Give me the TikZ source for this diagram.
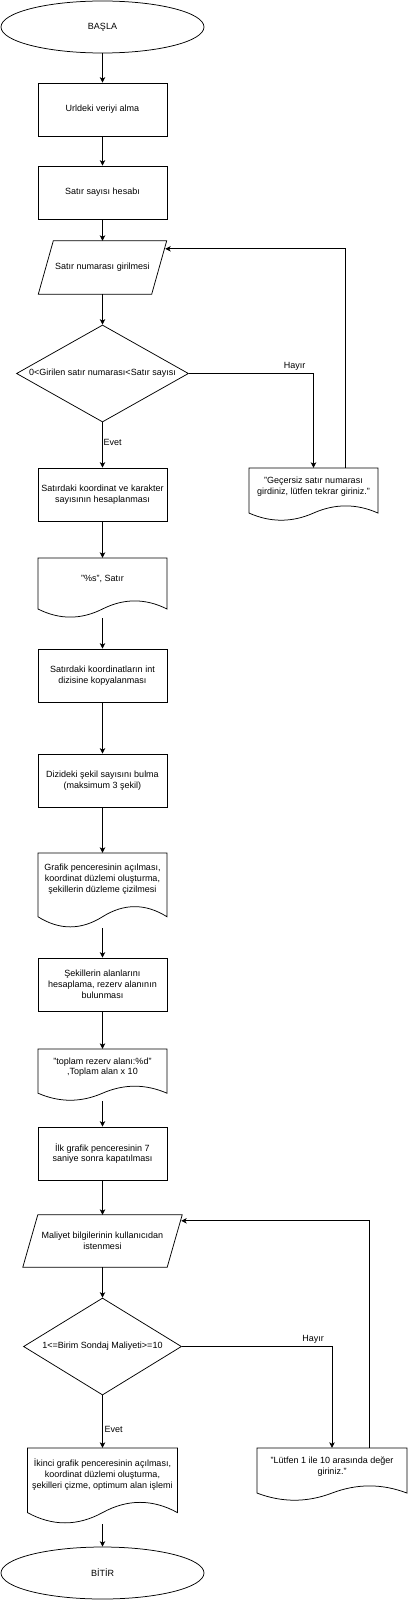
\documentclass[tikz,border=0pt]{standalone}
\usepackage{fontspec}
\setmainfont{Liberation Sans}
\usetikzlibrary{arrows.meta,shapes.geometric,calc}
\tikzset{
  ln/.style={draw=black, line width=0.75pt},
  procbox/.style={ln, rectangle, minimum width=129pt, minimum height=53pt, align=center, inner sep=0pt},
  termbox/.style={ln, ellipse, minimum width=203pt, minimum height=52pt, inner sep=0pt},
  decbox/.style={ln, diamond, inner sep=0pt},
  framebox/.style={rectangle, inner sep=0pt, align=center},
  txt/.style={align=center, inner sep=0pt},
  lab/.style={inner sep=0pt},
  arr/.style={line width=0.75pt, -{Stealth[length=5.5pt,width=5.5pt,inset=1.5pt]}}
}
% document shape: name, cx, top, w, h, text
\newcommand{\docshape}[6]{%
  \node[framebox, minimum width=#4pt, minimum height=#5pt] (#1) at (#2,{#3+#5/2}) {};
  \pgfmathsetmacro\docL{#2-#4/2}%
  \pgfmathsetmacro\docR{#2+#4/2}%
  \pgfmathsetmacro\docE{#3+0.85*#5}%
  \pgfmathsetmacro\docU{#3+0.67*#5}%
  \pgfmathsetmacro\docD{#3+1.03*#5}%
  \pgfmathsetmacro\docA{#2+#4/2-#4/6}%
  \pgfmathsetmacro\docB{#2+#4/6}%
  \pgfmathsetmacro\docC{#2-#4/6}%
  \pgfmathsetmacro\docF{#2-#4/2+#4/6}%
  \draw[ln] (\docL,#3) -- (\docR,#3) -- (\docR,\docE)
     .. controls (\docA,\docU) and (\docB,\docU) .. (#2,\docE)
     .. controls (\docC,\docD) and (\docF,\docD) .. (\docL,\docE) -- cycle;
  \node[txt] (#1t) at (#2,{#3+0.35*#5}) {#6};
}
% input/output parallelogram: name, cx, cy, w, h, text
\newcommand{\ioshape}[6]{%
  \node[framebox, minimum width=#4pt, minimum height=#5pt] (#1) at (#2,#3) {#6};
  \draw[ln] (#1.south west) -- ($(#1.north west)+(15,0)$) -- (#1.north east)
     -- ($(#1.south east)+(-15,0)$) -- cycle;
}
\begin{document}
\begin{tikzpicture}[x=1pt, y=-1pt, font=\fontsize{9}{10.8}\selectfont]
\useasboundingbox (0,0) rectangle (408,1600);

\node[termbox] (s) at (102.5,27) {BAŞLA};
\node[procbox] (b1) at (102.5,109.5) {Urldeki veriyi alma};
\node[procbox] (b2) at (102.5,192.5) {Satır sayısı hesabı};
\ioshape{p1}{102.5}{267.5}{128}{53}{Satır numarası girilmesi}
\node[decbox, minimum width=172pt, minimum height=97pt] (q1) at (102.5,373.5) {};
\node[txt] (q1t) at (q1) {0<Girilen satır numarası<Satır sayısı};
\node[procbox] (b3) at (102.5,494.5) {Satırdaki koordinat ve karakter\\sayısının hesaplanması};
\docshape{e1}{313.5}{468}{129}{53}{"Geçersiz satır numarası\\girdiniz, lütfen tekrar giriniz."}
\docshape{d1}{102.5}{558}{129}{60}{"\%s", Satır}
\node[procbox] (b4) at (102.5,675.5) {Satırdaki koordinatların int\\dizisine kopyalanması};
\node[procbox] (b5) at (102.5,780.5) {Dizideki şekil sayısını bulma\\(maksimum 3 şekil)};
\docshape{d2}{102.5}{853}{129}{75}{Grafik penceresinin açılması,\\koordinat düzlemi oluşturma,\\şekillerin düzleme çizilmesi}
\node[procbox] (b6) at (102.5,984.5) {Şekillerin alanlarını\\hesaplama, rezerv alanının\\bulunması};
\docshape{d3}{102.5}{1049}{129}{52}{"toplam rezerv alanı:\%d"\\,Toplam alan x 10}
\node[procbox] (b7) at (102.5,1153.5) {İlk grafik penceresinin 7\\saniye sonra kapatılması};
\ioshape{p2}{102.5}{1241}{159}{52}{Maliyet bilgilerinin kullanıcıdan\\istenmesi}
\node[decbox, minimum width=158pt, minimum height=97pt] (q2) at (102.5,1346.5) {};
\node[txt] (q2t) at (q2) {1<=Birim Sondaj Maliyeti>=10};
\docshape{d4}{102.5}{1448}{150}{76}{İkinci grafik penceresinin açılması,\\koordinat düzlemi oluşturma,\\şekilleri çizme, optimum alan işlemi}
\docshape{e2}{332}{1448}{150}{53}{"Lütfen 1 ile 10 arasında değer\\giriniz."}
\node[termbox] (t) at (102.5,1573) {BİTİR};

% connectors
\draw[arr] (s.south) -- (b1.north);
\draw[arr] (b1.south) -- (b2.north);
\draw[arr] (b2.south) -- (p1.north);
\draw[arr] (p1.south) -- (q1.north);
\draw[arr] (q1.south) -- (b3.north);
\node[lab, anchor=west] (ev1) at (103.5,442) {Evet};
\draw[arr] (q1.east) -| (e1.north);
\node[lab] (h1) at (294.5,366) {Hayır};
\draw[arr] ($(e1.north)+(31.5,0)$) |- ($(p1.north east)+(-1.5,8)$);
\draw[arr] (b3.south) -- (d1.north);
\draw[arr] (d1.south) -- (b4.north);
\draw[arr] (b4.south) -- (b5.north);
\draw[arr] (b5.south) -- (d2.north);
\draw[arr] (d2.south) -- (b6.north);
\draw[arr] (b6.south) -- (d3.north);
\draw[arr] (d3.south) -- (b7.north);
\draw[arr] (b7.south) -- (p2.north);
\draw[arr] (p2.south) -- (q2.north);
\draw[arr] (q2.south) -- (d4.north);
\node[lab, anchor=west] (ev2) at (104.5,1429) {Evet};
\draw[arr] (q2.east) -| (e2.north);
\node[lab] (h2) at (313,1339) {Hayır};
\draw[arr] ($(e2.north)+(37,0)$) |- ($(p2.north east)+(-1,6)$);
\draw[arr] (d4.south) -- (t.north);
\end{tikzpicture}
\end{document}
